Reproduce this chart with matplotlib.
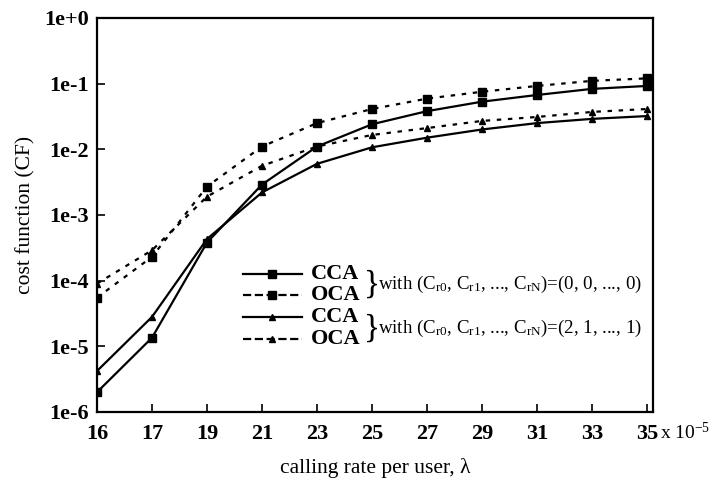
import numpy as np
import matplotlib.pyplot as plt

plt.rcParams['font.family'] = ['Liberation Serif', 'DejaVu Serif']
plt.rcParams['mathtext.fontset'] = 'custom'
plt.rcParams['mathtext.rm'] = 'Liberation Serif'
plt.rcParams['mathtext.it'] = 'Liberation Serif:italic'
plt.rcParams['mathtext.bf'] = 'Liberation Serif:bold'

# calling rate per user (x 10^-5), plotted at equally spaced positions
rates = ['16', '17', '19', '21', '23', '25', '27', '29', '31', '33', '35']

# cost function, (C_r0, C_r1, ..., C_rN) = (0, 0, ..., 0)
cca_zero = [2.0e-6, 1.35e-5, 3.8e-4, 2.9e-3, 1.1e-2, 2.4e-2, 3.8e-2, 5.3e-2, 6.7e-2, 8.3e-2, 9.2e-2]
oca_zero = [5.5e-5, 2.3e-4, 2.7e-3, 1.1e-2, 2.5e-2, 4.1e-2, 5.9e-2, 7.5e-2, 9.2e-2, 1.1e-1, 1.2e-1]

# cost function, (C_r0, C_r1, ..., C_rN) = (2, 1, ..., 1)
cca_two = [4.2e-6, 2.8e-5, 4.3e-4, 2.2e-3, 6.0e-3, 1.07e-2, 1.5e-2, 2.0e-2, 2.5e-2, 2.9e-2, 3.2e-2]
oca_two = [9.0e-5, 2.9e-4, 1.9e-3, 5.6e-3, 1.1e-2, 1.65e-2, 2.1e-2, 2.7e-2, 3.1e-2, 3.7e-2, 4.1e-2]

ytick_labels = ['1e-6', '1e-5', '1e-4', '1e-3', '1e-2', '1e-1', '1e+0']

x = np.arange(len(rates))
dots = (0, (2, 3))

fig = plt.figure(figsize=(7.13, 4.83), dpi=100)
ax = fig.add_axes([0.136, 0.147, 0.780, 0.816])

l1, = ax.plot(x, cca_zero, color='black', lw=1.6, marker='s', ms=5.5)
l2, = ax.plot(x, oca_zero, color='black', lw=1.6, ls=dots, marker='s', ms=5.5)
l3, = ax.plot(x, cca_two, color='black', lw=1.6, marker='^', ms=4.5)
l4, = ax.plot(x, oca_two, color='black', lw=1.6, ls=dots, marker='^', ms=4.5)

ax.set_yscale('log')
ax.set_ylim(1e-6, 1)
ax.set_xlim(0, len(rates) - 1 + 0.11)
ax.set_yticks([10.0 ** k for k in range(-6, 1)])
ax.set_yticklabels(ytick_labels)
ax.yaxis.set_minor_locator(plt.NullLocator())
ax.set_xticks(x)
ax.set_xticklabels(rates)

ax.tick_params(direction='in', length=6, width=1.2, labelsize=16)
ax.tick_params(axis='x', pad=9)
ax.tick_params(axis='y', pad=6)
for lab in ax.get_xticklabels() + ax.get_yticklabels():
    lab.set_fontweight('bold')
for sp in ax.spines.values():
    sp.set_linewidth(1.6)

ax.set_xlabel('calling rate per user, λ', fontsize=15.5, labelpad=10)
ax.set_ylabel('cost function (CF)', fontsize=15.5, labelpad=6)
ax.text(1.013, -0.052, r'x 10$^{-5}$', transform=ax.transAxes, fontsize=14,
        ha='left', va='center')

# hand-built legend with braces
rows = [0.350, 0.296, 0.240, 0.185]
handles = [l1, l2, l3, l4]
names = ['CCA', 'OCA', 'CCA', 'OCA']
hx0, hx1 = 0.262, 0.368
for y, h, name in zip(rows, handles, names):
    ax.plot([hx0, hx1], [y, y], transform=ax.transAxes, color='black',
            lw=1.6, ls=h.get_linestyle())
    ax.plot([(hx0 + hx1) / 2], [y], transform=ax.transAxes, color='black',
            marker=h.get_marker(), ms=h.get_markersize(), ls='none')
    ax.text(0.384, y, name, transform=ax.transAxes, fontsize=16,
            fontweight='bold', va='center', ha='left')

for top, bot, label in [(rows[0], rows[1], '(0, 0, ..., 0)'),
                        (rows[2], rows[3], '(2, 1, ..., 1)')]:
    ym = (top + bot) / 2
    ax.text(0.494, ym, '}', transform=ax.transAxes, fontsize=24,
            va='center', ha='center')
    ax.text(0.506, ym,
            r'with (C$_{\mathrm{r0}}$, C$_{\mathrm{r1}}$, ..., C$_{\mathrm{rN}}$)=' + label,
            transform=ax.transAxes, fontsize=13.6, va='center', ha='left')

fig.savefig('out.png', dpi=100)
